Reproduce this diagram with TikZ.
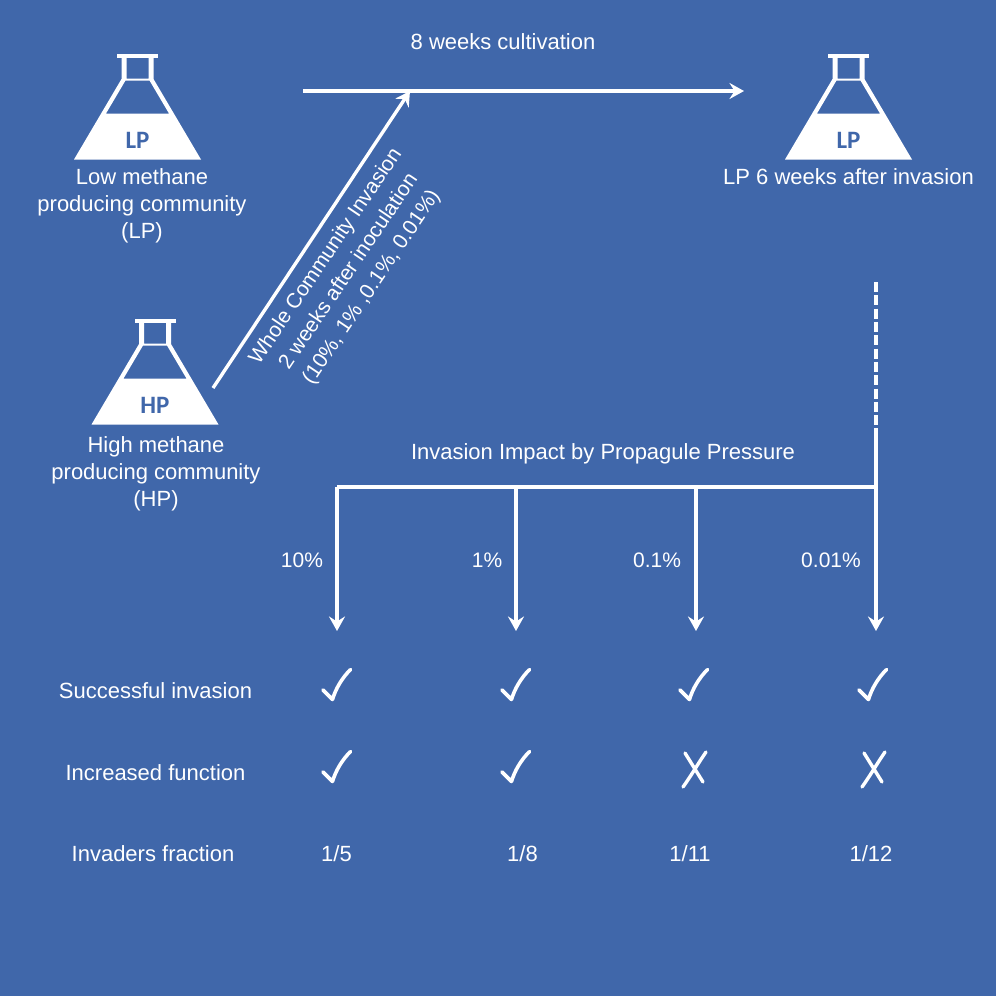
\documentclass[tikz,border=0pt]{standalone}
\usepackage{fontspec}
\setmainfont{Liberation Sans}
\newfontfamily\flaskfont{Carlito}
\usetikzlibrary{arrows.meta}
\definecolor{bg}{RGB}{64,103,170}
\tikzset{
  x=1pt,y=-1pt,
  lab/.style={text=white,font=\fontsize{22}{27}\selectfont,align=center,inner sep=0pt},
  pct/.style={lab,font=\fontsize{21}{27}\selectfont},
  diag/.style={lab,font=\fontsize{21}{27.5}\selectfont},
  conn/.style={draw=white,line width=3.4pt},
  arr/.style={conn,-{Stealth[length=14.5pt,width=16pt,inset=5pt]}},
  flask/.pic={
    \fill[white] (-20.5,-106) rectangle (20.5,-102);
    \fill[white,even odd rule]
      (-16,-103) -- (16,-103) -- (16,-80.5) -- (63.5,0) -- (-63.5,0) -- (-16,-80.5) -- cycle
      (-11,-102) -- (11,-102) -- (11,-81) -- (-11,-81) -- cycle
      (-12,-79) -- (12,-79) -- (31.5,-46) -- (-31.5,-46) -- cycle;
    \node[text=bg,inner sep=0pt,font=\flaskfont\bfseries\fontsize{25}{25}\selectfont] at (0,-19.5) {\tikzpictext};
  },
  tick/.pic={
    \draw[white,line width=3.6pt,line cap=round,line join=round]
      (1,1) -- (10.5,10.5) .. controls (13.5,0) and (20,-11) .. (28.5,-19.5);
  },
  cross/.pic={
    \draw[white,line width=3.4pt,line cap=round] (0,0) -- (18,29);
    \draw[white,line width=3.4pt,line cap=round] (21,-1) .. controls (14,9) and (6,23) .. (-2,34);
  }
}
\begin{document}
\begin{tikzpicture}
\useasboundingbox[fill=bg] (0,0) rectangle (996,996);

\pic[pic text=LP] at (137.5,159.5) {flask};
\pic[pic text=HP] at (155,424.5) {flask};
\pic[pic text=LP] at (848.5,159.5) {flask};

\node[lab] (lp) at (142,205.5) {Low methane\\producing community\\(LP)};
\node[lab] (hp) at (156,473.5) {High methane\\producing community\\(HP)};
\node[lab] (lpsix) at (848.5,177) {LP 6 weeks after invasion};
\node[lab] (cult) at (503,42) {8 weeks cultivation};
\node[diag,rotate=56] (whole) at (349,272) {Whole Community Invasion\\2 weeks after inoculation\\(10\%, 1\% ,0.1\%, 0.01\%)};
\node[lab] (impact) at (603,454) {Invasion Impact by Propagule Pressure};

\node[pct] (pa) at (302,560) {10\%};
\node[pct] (pb) at (487,560) {1\%};
\node[pct] (pc) at (657,560) {0.1\%};
\node[pct] (pd) at (831,560) {0.01\%};

\node[lab] (rowa) at (155.5,691) {Successful invasion};
\node[lab] (rowb) at (155.5,773) {Increased function};
\node[lab] (rowc) at (153,854) {Invaders fraction};
\node[lab] (fa) at (336.5,854) {1/5};
\node[lab] (fb) at (522.5,854) {1/8};
\node[lab] (fc) at (690,854) {1/11};
\node[lab] (fd) at (871,854) {1/12};

\coordinate (cs) at (303,91);
\coordinate (ce) at (744,91);
\coordinate (ds) at (213,388);
\coordinate (de) at (410,91);
\coordinate (vt) at (876,282);
\coordinate (vm) at (876,428);
\coordinate (vj) at (876,487);
\coordinate (hl) at (337,487);
\coordinate (hb) at (516,487);
\coordinate (hc) at (696,487);
\coordinate (ea) at (337,631);
\coordinate (eb) at (516,631);
\coordinate (ec) at (696,631);
\coordinate (ed) at (876,631);

\draw[arr] (cs) -- (ce);
\draw[arr] (ds) -- (de);
\draw[conn,dash pattern=on 10pt off 3.33pt] (vt) -- (vm);
\draw[arr] (vm) -- (ed);
\draw[conn] (vj) -- (hl);
\draw[arr] (hl) -- (ea);
\draw[arr] (hb) -- (eb);
\draw[arr] (hc) -- (ec);

\pic at (322,689) {tick};
\pic at (501,689) {tick};
\pic at (679,689) {tick};
\pic at (858,689) {tick};
\pic at (322,771) {tick};
\pic at (501,771) {tick};
\pic at (685,753) {cross};
\pic at (864,753) {cross};
\end{tikzpicture}
\end{document}
